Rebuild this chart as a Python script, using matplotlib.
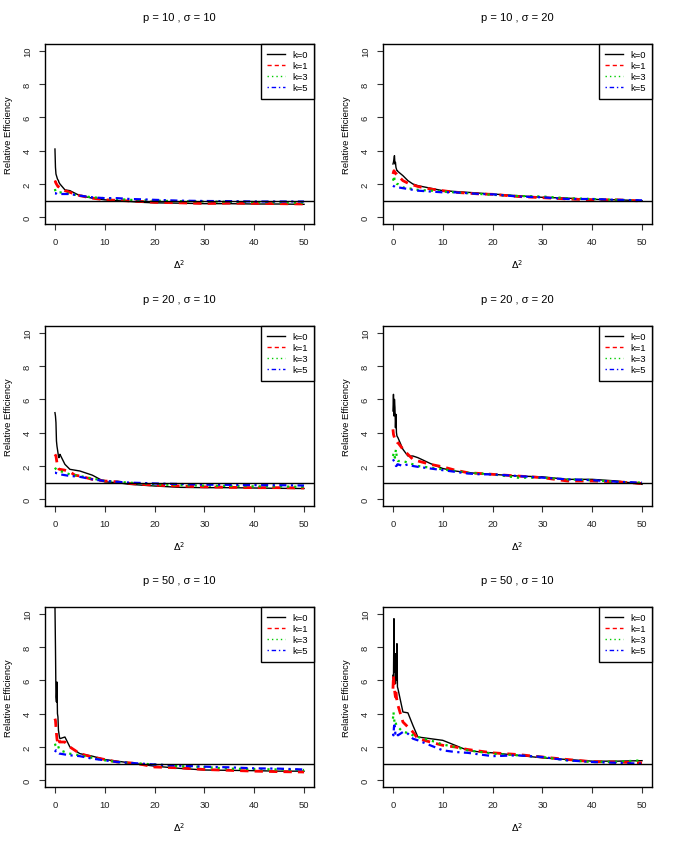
import matplotlib
matplotlib.use("Agg")
import matplotlib.pyplot as plt
from matplotlib.lines import Line2D
import numpy as np

plt.rcParams['font.family'] = ['Liberation Sans', 'DejaVu Sans']

delta2 = [0, 0.1, 0.2, 0.3, 0.4, 0.5, 0.6, 0.7, 0.8, 0.9, 1, 2, 3, 4, 5, 7.5,
          10, 12.5, 15, 17.5, 20, 25, 30, 35, 40, 45, 50]

titles = ["p = 10 , σ = 10", "p = 10 , σ = 20",
          "p = 20 , σ = 10", "p = 20 , σ = 20",
          "p = 50 , σ = 10", "p = 50 , σ = 10"]

series_labels = ["k=0", "k=1", "k=3", "k=5"]

p10_s10_k0 = [4.1,3.0,2.6,2.5,2.4,2.3,2.25,2.2,2.1,2.05,2.0, 1.65,1.6,1.45,1.3,1.15,1.05,1.0,0.95,0.9,0.87,0.85,0.82,0.82,0.8,0.8,0.78]
p10_s10_k1 = [2.1,2.15,2.05,2.0,1.95,1.9,1.85,1.85,1.82,1.8,1.8, 1.6,1.5,1.4,1.3,1.15,1.05,1.02,0.98,0.95,0.9,0.87,0.83,0.85,0.84,0.82,0.8]
p10_s10_k3 = [1.7,1.55,1.5,1.5,1.5,1.5,1.5,1.5,1.5,1.5,1.5, 1.45,1.4,1.35,1.3,1.2,1.15,1.1,1.05,1.02,1.0,0.97,0.95,0.93,0.92,0.9,0.88]
p10_s10_k5 = [1.45,1.45,1.42,1.42,1.4,1.4,1.4,1.4,1.4,1.4,1.4, 1.4,1.4,1.35,1.3,1.2,1.15,1.15,1.1,1.08,1.05,1.0,0.98,0.97,0.95,0.95,0.95]

p10_s20_k0 = [3.2,3.3,3.5,3.7,3.2,3.3,3.0,2.9,2.8,2.8,2.75, 2.5,2.2,2.0,1.9,1.75,1.6,1.55,1.5,1.45,1.4,1.3,1.2,1.15,1.08,1.05,1.0]
p10_s20_k1 = [2.6,2.7,2.8,2.75,2.7,2.65,2.6,2.6,2.55,2.5,2.5, 2.2,2.05,1.95,1.85,1.7,1.6,1.5,1.45,1.4,1.38,1.25,1.18,1.1,1.05,1.05,0.98]
p10_s20_k3 = [2.2,2.3,2.5,2.3,2.1,2.1,2.05,2.05,2.0,2.0,2.0, 1.8,1.75,1.7,1.65,1.6,1.55,1.5,1.45,1.4,1.35,1.28,1.25,1.15,1.1,1.05,1.0]
p10_s20_k5 = [1.9,1.88,1.86,1.85,1.83,1.82,1.8,1.8,1.8,1.8,1.8, 1.75,1.7,1.65,1.6,1.55,1.5,1.5,1.45,1.4,1.38,1.25,1.2,1.1,1.1,1.05,1.02]

p20_s10_k0 = [5.2,5.0,4.6,3.5,3.2,3.0,2.8,2.6,2.5,2.6,2.7, 2.1,1.8,1.75,1.7,1.45,1.05,1.0,0.9,0.85,0.8,0.72,0.7,0.7,0.68,0.66,0.65]
p20_s10_k1 = [2.7,2.65,2.6,2.4,2.2,2.0,1.9,1.85,1.82,1.8,1.8, 1.75,1.65,1.45,1.4,1.2,1.1,1.05,0.95,0.9,0.85,0.8,0.75,0.72,0.7,0.7,0.68]
p20_s10_k3 = [1.9,1.85,1.82,1.8,1.78,1.77,1.75,1.73,1.72,1.7,1.7, 1.6,1.5,1.45,1.4,1.25,1.1,1.05,1.0,0.95,0.9,0.85,0.82,0.8,0.78,0.77,0.75]
p20_s10_k5 = [1.6,1.6,1.58,1.57,1.56,1.55,1.53,1.52,1.51,1.5,1.5, 1.45,1.4,1.38,1.35,1.2,1.1,1.05,1.0,0.98,0.95,0.92,0.88,0.87,0.85,0.85,0.83]

p20_s20_k0 = [5.3,6.3,5.0,6.0,5.5,4.3,5.1,4.0,3.8,3.75,3.7, 3.0,2.6,2.6,2.5,2.15,1.85,1.7,1.6,1.55,1.5,1.4,1.35,1.2,1.2,1.1,0.9]
p20_s20_k1 = [4.2,3.9,3.8,3.7,3.7,3.7,3.6,3.5,3.45,3.4,3.4, 3.0,2.7,2.4,2.3,2.1,1.95,1.75,1.6,1.55,1.5,1.4,1.3,1.1,1.1,1.05,0.95]
p20_s20_k3 = [2.6,2.7,2.8,2.6,2.5,2.8,3.0,2.7,2.5,2.4,2.3, 2.3,2.2,2.1,2.0,1.9,1.8,1.7,1.6,1.55,1.5,1.3,1.3,1.2,1.15,1.05,1.0]
p20_s20_k5 = [2.4,2.35,2.3,2.25,2.2,2.1,2.0,2.0,2.05,2.1,2.1, 2.0,2.1,2.0,1.95,1.85,1.75,1.65,1.55,1.5,1.5,1.4,1.3,1.2,1.15,1.05,1.0]

p50_s10a_k0 = [10.5,8.0,5.0,4.7,5.9,4.0,3.8,3.0,2.8,2.6,2.5, 2.6,2.0,1.8,1.6,1.45,1.25,1.15,1.05,0.95,0.85,0.72,0.62,0.6,0.58,0.55,0.55]
p50_s10a_k1 = [3.7,3.6,3.2,2.8,2.5,2.3,2.4,2.5,2.4,2.3,2.3, 2.3,2.0,1.8,1.6,1.4,1.25,1.1,1.05,0.95,0.8,0.75,0.65,0.6,0.55,0.52,0.5]
p50_s10a_k3 = [2.2,2.1,2.05,2.0,2.05,2.1,2.1,2.0,1.9,1.85,1.8, 1.7,1.6,1.55,1.5,1.35,1.2,1.1,1.05,1.0,0.95,0.85,0.8,0.7,0.68,0.65,0.62]
p50_s10a_k5 = [1.7,1.75,1.8,1.75,1.7,1.65,1.65,1.63,1.62,1.6,1.6, 1.55,1.5,1.48,1.45,1.3,1.2,1.1,1.05,1.0,0.95,0.88,0.82,0.78,0.72,0.7,0.65]

p50_s10b_k0 = [6.3,6.0,9.7,6.5,7.6,5.8,7.6,6.0,8.2,5.6,5.5, 4.1,4.05,3.3,2.6,2.5,2.4,2.1,1.8,1.7,1.65,1.5,1.35,1.25,1.15,1.15,1.18]
p50_s10b_k1 = [5.5,6.3,5.8,5.5,5.2,5.0,5.4,5.0,4.8,4.6,4.5, 3.5,3.2,2.9,2.5,2.3,2.1,2.0,1.85,1.75,1.65,1.55,1.4,1.25,1.12,1.1,1.05]
p50_s10b_k3 = [3.7,4.1,3.8,3.5,3.6,3.6,3.4,3.3,3.3,3.25,3.2, 2.9,2.85,2.7,2.6,2.4,2.15,2.0,1.8,1.7,1.6,1.5,1.4,1.2,1.1,1.12,1.2]
p50_s10b_k5 = [2.8,2.7,3.2,3.3,3.0,2.8,2.9,2.9,2.8,2.75,2.7, 2.9,2.8,2.5,2.4,2.1,1.8,1.7,1.65,1.55,1.45,1.5,1.4,1.2,1.1,1.05,1.0]

panels = [
    [p10_s10_k0, p10_s10_k1, p10_s10_k3, p10_s10_k5],
    [p10_s20_k0, p10_s20_k1, p10_s20_k3, p10_s20_k5],
    [p20_s10_k0, p20_s10_k1, p20_s10_k3, p20_s10_k5],
    [p20_s20_k0, p20_s20_k1, p20_s20_k3, p20_s20_k5],
    [p50_s10a_k0, p50_s10a_k1, p50_s10a_k3, p50_s10a_k5],
    [p50_s10b_k0, p50_s10b_k1, p50_s10b_k3, p50_s10b_k5],
]

colors = ["black", "#FF0000", "#00CD00", "#0000FF"]
widths = [1.0, 2.0, 1.6, 1.6]
dashes = [None, (3, 2.2), (1, 2.2), (1, 2, 3.2, 2)]

W, H = 676, 845
fig = plt.figure(figsize=(W / 100, H / 100), dpi=100)

lefts = [45, 383]
tops = [45, 327, 608]
aw, ah = 269, 180
fs = 6.8

for i, (title, series) in enumerate(zip(titles, panels)):
    r, c = divmod(i, 2)
    x0 = lefts[c]
    y0 = tops[r]
    ax = fig.add_axes([x0 / W, 1 - (y0 + ah) / H, aw / W, ah / H])
    for j, (vals, col, lw, ds) in enumerate(zip(series, colors, widths, dashes)):
        ln, = ax.plot(delta2, vals, color=col, lw=lw, solid_joinstyle='round',
                      dash_capstyle='butt')
        if ds is not None:
            ln.set_dashes(ds)
    ax.axhline(1, color="black", lw=1)
    ax.set_xlim(-2, 52)
    ax.set_ylim(-0.4, 10.4)
    ax.set_xticks([0, 10, 20, 30, 40, 50])
    ax.set_yticks([0, 2, 4, 6, 8, 10])
    ax.tick_params(axis='both', direction='out', length=4.5, width=0.8,
                   labelsize=fs, color='#333333', labelcolor='#222222', pad=5)
    for lab in ax.get_yticklabels():
        lab.set_rotation(90)
        lab.set_va('center')
    for sp in ax.spines.values():
        sp.set_linewidth(1.0)
    ax.text(0.5, 1 + 27 / ah, title, transform=ax.transAxes, ha='center',
            va='center', fontsize=8)
    ax.set_xlabel("$\\Delta^2$", fontsize=fs, labelpad=8)
    ax.set_ylabel("Relative Efficiency", fontsize=fs, labelpad=7)
    handles = [Line2D([0], [0], color=col, lw=1.0) for col in colors]
    for h, ds in zip(handles, dashes):
        if ds is not None:
            h.set_dashes(ds)
    leg = ax.legend(handles, series_labels, loc='upper right', fontsize=fs,
                    frameon=True, fancybox=False, framealpha=1,
                    edgecolor='black', borderaxespad=0, handlelength=1.9,
                    handletextpad=0.75, labelspacing=0.22, borderpad=0.65)
    leg.get_frame().set_linewidth(1.0)

fig.savefig("out.png", dpi=100)
